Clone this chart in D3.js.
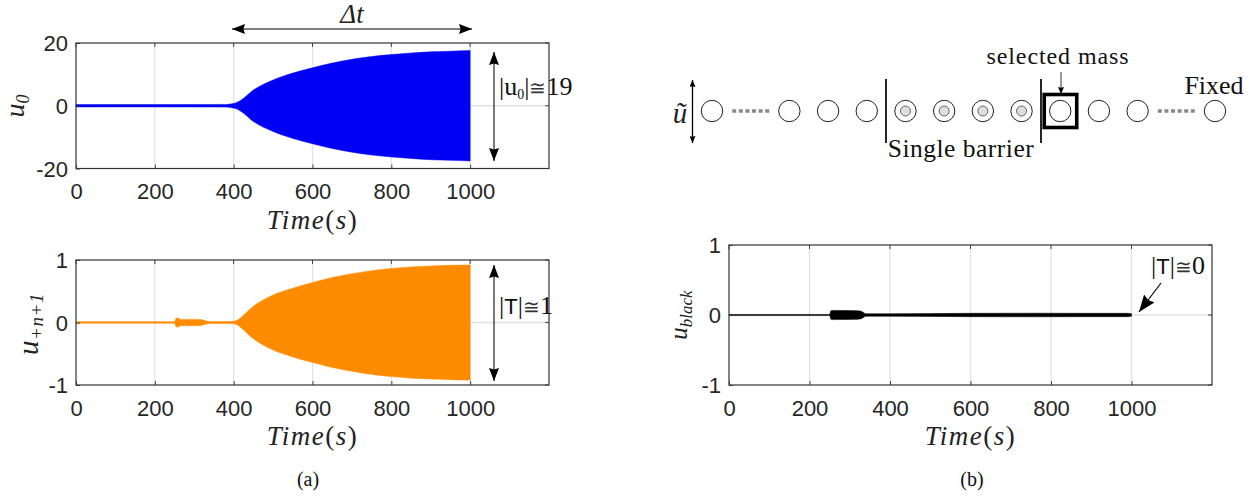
<!DOCTYPE html>
<html><head><meta charset="utf-8">
<script src="https://cdn.jsdelivr.net/npm/d3@7"></script>
<style>
html,body{margin:0;padding:0;background:#fff}
svg{display:block}
.tick text{font-family:"Liberation Sans",Arial,sans-serif;font-size:22px;fill:#262626}
.s{font-family:"Liberation Serif",serif;fill:#111}
.m{font-family:"Liberation Serif",serif;font-style:italic;fill:#222}
</style></head><body>
<svg id="c" width="1260" height="496"></svg>
<script>
// ---- data
const xTicks=[0,200,400,600,800,1000];
const timeU0=[0,200,380,395,405,420,450,500,550,600,650,700,750,800,850,900,950,1000];
const ampU0=[0.38,0.38,0.42,0.6,0.9,1.9,5.0,8.2,10.4,12.1,13.6,14.8,15.7,16.3,16.8,17.2,17.4,17.6];
const timeUn=[0,250,253,258,265,290,310,320,330,345,390,400,410,420,450,500,550,600,650,700,750,800,850,900,950,1000];
const ampUn=[0.012,0.012,0.06,0.075,0.05,0.05,0.05,0.045,0.025,0.015,0.015,0.02,0.04,0.09,0.26,0.44,0.55,0.64,0.72,0.78,0.83,0.865,0.89,0.905,0.915,0.92];
const timeBl=[0,250,253,258,320,330,340,400,600,760,880,950,990,1000];
const ampBl=[0.008,0.008,0.06,0.066,0.062,0.05,0.018,0.018,0.024,0.026,0.024,0.024,0.024,0.018];
const massSites=[0,2,3,4,5,6,7,8,9,10,11,13];
const coatedSites=[5,6,7,8];
const dottedGaps=[1,12];

const svg=d3.select("#c");
function panel(o){
  const x=d3.scaleLinear().domain([0,1200]).range([o.l,o.r]);
  const y=d3.scaleLinear().domain(o.yd).range([o.b,o.t]);
  const g=svg.append("g");
  g.append("rect").attr("x",o.l).attr("y",o.t).attr("width",o.r-o.l).attr("height",o.b-o.t).attr("fill","#fff");
  g.selectAll(".gx").data(xTicks.slice(1)).join("line").attr("x1",x).attr("x2",x).attr("y1",o.t).attr("y2",o.b).attr("stroke","#e2e2e2").attr("stroke-width",1.3);
  g.append("line").attr("x1",o.l).attr("x2",o.r).attr("y1",y(0)).attr("y2",y(0)).attr("stroke","#e2e2e2").attr("stroke-width",1.3);
  const area=d3.area().curve(d3.curveMonotoneX).x((d,i)=>x(o.ts[i])).y0(d=>y(-d)).y1(d=>y(d));
  g.append("path").datum(o.as).attr("d",area).attr("fill",o.c).attr("stroke",o.c).attr("stroke-width",.5);
  const ax=d3.axisBottom(x).tickValues(xTicks).tickFormat(d3.format("d")).tickSize(0).tickPadding(15);
  const ay=d3.axisLeft(y).tickValues(o.yt).tickFormat(d=>String(d)).tickSize(0).tickPadding(8);
  const gx=g.append("g").attr("transform",`translate(0,${o.b})`).call(ax);
  const gy=g.append("g").attr("transform",`translate(${o.l},0)`).call(ay);
  gx.select(".domain").remove();gy.select(".domain").remove();
  gy.selectAll("text").attr("dy",".36em");
  gx.selectAll(".tick").append("line").attr("y2",-4).attr("stroke","#333").attr("stroke-width",.9);
  gy.selectAll(".tick").append("line").attr("x2",4).attr("stroke","#333").attr("stroke-width",.9);
  g.selectAll(".tr").data(o.yt).join("line").attr("x1",o.r).attr("x2",o.r-4).attr("y1",y).attr("y2",y).attr("stroke","#333").attr("stroke-width",.9);
  g.selectAll(".tt").data(xTicks).join("line").attr("x1",x).attr("x2",x).attr("y1",o.t).attr("y2",o.t+4).attr("stroke","#333").attr("stroke-width",.9);
  g.append("rect").attr("x",o.l).attr("y",o.t).attr("width",o.r-o.l).attr("height",o.b-o.t).attr("fill","none").attr("stroke","#333").attr("stroke-width",1.2);
  const t=g.append("text").attr("class","m").attr("x",(o.l+o.r)/2).attr("y",o.b+60).attr("text-anchor","middle").attr("font-size",27).attr("letter-spacing",1.5);
  t.append("tspan").text("Time");
  t.append("tspan").attr("font-style","normal").text("(");
  t.append("tspan").text("s");
  t.append("tspan").attr("font-style","normal").text(")");
}
panel({l:76,r:549,t:43,b:168.5,yd:[-20,20],yt:[-20,0,20],ts:timeU0,as:ampU0,c:"#0000f5"});
panel({l:76,r:549,t:260,b:385,yd:[-1,1],yt:[-1,0,1],ts:timeUn,as:ampUn,c:"#ff8c00"});
panel({l:729,r:1212,t:245,b:385,yd:[-1,1],yt:[-1,0,1],ts:timeBl,as:ampBl,c:"#000"});

// y labels
function ylab(x,y,main,sub,fs,ss,ls){
  const t=svg.append("text").attr("class","m").attr("transform",`translate(${x},${y}) rotate(-90)`).attr("text-anchor","middle").attr("font-size",fs).attr("letter-spacing",ls||0);
  t.append("tspan").text(main);
  t.append("tspan").attr("font-size",ss).attr("dy",5).text(sub);
}
ylab(24,106,"u","0",28,18);
ylab(38,324,"u","+n+1",29,19,.6);
ylab(687,315,"u","black",25,17);

// arrows
const defs=svg.append("defs");
function mk(id,w,h){
  const m=defs.append("marker").attr("id",id).attr("viewBox",`0 0 ${w} ${h}`).attr("refX",w).attr("refY",h/2).attr("markerWidth",w).attr("markerHeight",h).attr("markerUnits","userSpaceOnUse").attr("orient","auto-start-reverse");
  m.append("path").attr("d",`M0,0L${w},${h/2}L0,${h}L${w*.12},${h/2}Z`).attr("fill","#000");
}
mk("big",13,10);mk("small",7,6);mk("fat",17,13);
function arrow(x1,y1,x2,y2,mark,both,sw,c){
  const l=svg.append("line").attr("x1",x1).attr("y1",y1).attr("x2",x2).attr("y2",y2).attr("stroke",c||"#000").attr("stroke-width",sw||1.2).attr("marker-end",`url(#${mark})`);
  if(both)l.attr("marker-start",`url(#${mark})`);
}
arrow(232,29,472,29,"big",true);
arrow(494,52,494,161,"big",true,1.3,"#333");
arrow(494,265,494,381,"big",true,1.3,"#333");
arrow(1161,283,1139,312,"fat",false);
arrow(692.5,80,692.5,143,"small",true,1.3);
arrow(1061,72,1061,94,"small",false,.8);

// annotations
svg.append("text").attr("class","m").attr("x",352).attr("y",23).attr("text-anchor","middle").attr("font-size",27).text("Δt");
function rich(x,y,parts,fs){
  const t=svg.append("text").attr("class","s").attr("x",x).attr("y",y).attr("font-size",fs);
  parts.forEach(p=>{
    const s=t.append("tspan").text(p.t);
    if(p.sans)s.attr("font-family","'Liberation Sans',sans-serif");
    if(p.cong)s.attr("font-family","'DejaVu Serif',serif").attr("fill","#333");
    if(p.fs)s.attr("font-size",p.fs);
    if(p.dy)s.attr("dy",p.dy);
  });
}
rich(499,95,[{t:"|u"},{t:"0",fs:14,dy:4},{t:"|",dy:-4},{t:"≅",cong:true,fs:20},{t:"19"}],26);
rich(499,314,[{t:"|"},{t:"T",sans:true,fs:22},{t:"|"},{t:"≅",cong:true,fs:20},{t:"1"}],26);
rich(1151,274,[{t:"|"},{t:"T",sans:true,fs:22},{t:"|"},{t:"≅",cong:true,fs:20},{t:"0"}],26);

const lab=(x,y,s,fs,ls)=>svg.append("text").attr("class","s").attr("x",x).attr("y",y).attr("text-anchor","middle").attr("font-size",fs).attr("letter-spacing",ls||0).text(s);
lab(308,486,"(a)",20);
lab(972,486,"(b)",20);
lab(1058,64,"selected mass",24,.9);
lab(961,157,"Single barrier",25.5,.5);
lab(1214,94,"Fixed",26);
svg.append("text").attr("class","m").attr("x",680).attr("y",123).attr("text-anchor","middle").attr("font-size",29).text("ũ");

// chain diagram
const site=d3.scaleLinear().domain([0,13]).range([712,1215]);
const cy=111;
svg.selectAll(".dot").data(dottedGaps).join("line").attr("x1",d=>site(d)-18.5).attr("x2",d=>site(d)+18.5).attr("y1",cy).attr("y2",cy).attr("stroke","#888").attr("stroke-width",3.5).attr("stroke-dasharray","4 2.6");
svg.selectAll(".mass").data(massSites).join("circle").attr("cx",site).attr("cy",cy).attr("r",10.7).attr("fill","#fff").attr("stroke","#222").attr("stroke-width",1);
svg.selectAll(".core").data(coatedSites).join("circle").attr("cx",site).attr("cy",cy).attr("r",5).attr("fill","#dedede").attr("stroke","#666").attr("stroke-width",1);
[886,1041].forEach(x=>svg.append("line").attr("x1",x).attr("x2",x).attr("y1",79).attr("y2",143).attr("stroke","#000").attr("stroke-width",1.7));
svg.append("rect").attr("x",site(9)-16).attr("y",cy-16.5).attr("width",32.5).attr("height",33).attr("fill","none").attr("stroke","#000").attr("stroke-width",3.6);
</script></body></html>
